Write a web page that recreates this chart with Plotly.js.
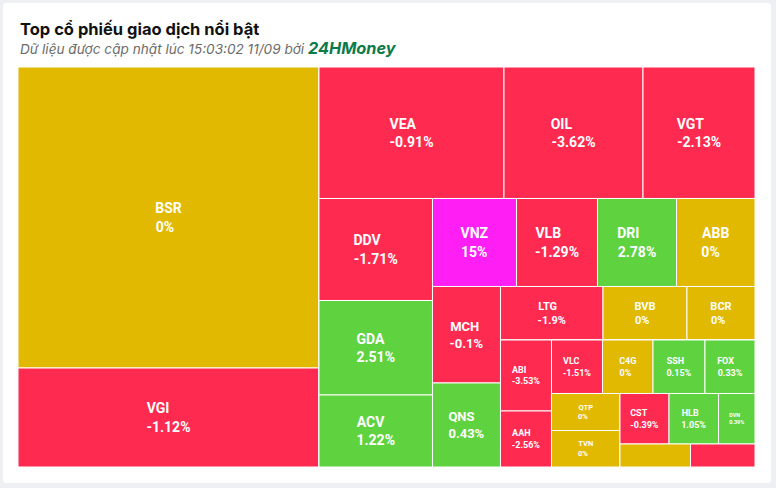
<!DOCTYPE html>
<html>
<head>
<meta charset="utf-8">
<script src="https://cdn.plot.ly/plotly-3.0.1.min.js"></script>
<style>
  html, body { margin: 0; padding: 0; background: #eef0f3; width: 776px; height: 488px; overflow: hidden; }
  #card { position: absolute; left: 3px; top: 3px; width: 768px; height: 480px; background: #ffffff; border-radius: 4px; overflow: hidden; }
  #chart { width: 768px; height: 480px; }
</style>
</head>
<body>
<div id="card"><div id="chart"></div></div>
<script>
// ---------------- DATA ----------------
// Layout groups (rows / columns of the treemap, nested)
const groupIds     = ['ALL', 'A', 'R1', 'B', 'R2', 'C', 'R3', 'D', 'R4', 'E', 'R5', 'F', 'R6', 'G', 'R7', 'H', 'R8', 'I', 'R9', 'J', 'K'];
const groupParents = ['',    'ALL','ALL','R1','R1','R2','R2','R3','R3','R4','R4','R5','R5','R6','R6','R7','R7','R8','R8','R9','R9'];

// Stocks (leaves)
const tickers = ['BSR','VGI','VEA','OIL','VGT','DDV','GDA','ACV','VNZ','VLB','DRI','ABB','MCH','QNS','LTG','BVB','BCR','ABI','AAH','VLC','C4G','SSH','FOX','QTP','TVN','CST','HLB','DVN','',''];
const tickerGroup = ['A','A','B','B','B','C','C','C','D','D','D','D','E','E','F','F','F','G','G','H','H','H','H','I','I','J','J','J','K','K'];
// trading size (relative)
const tradeValue = [90601,29799,24328,18279,14728,11577,10726,8172,7392,7128,6952,6908,6562,5712,5484,4494,3638,3621,2856,2729,2702,2782,2675,2535,2500,2475,2500,1843,1622,1484];
// price change, %
const changePct = [0,-1.12,-0.91,-3.62,-2.13,-1.71,2.51,1.22,15,-1.29,2.78,0,-0.1,0.43,-1.9,0,0,-3.53,-2.56,-1.51,0,0.15,0.33,0,0,-0.39,1.05,0.39,0,-0.5];

// ---------------- STYLE ----------------
const COLORS = { up: '#5fd23f', down: '#ff2a50', flat: '#e0b900', ceil: '#ff1ff5' };
const labelFontSize = { MCH: 13, QNS: 13, LTG: 11, BVB: 11, BCR: 11, ABI: 9, AAH: 9, VLC: 9, C4G: 9, SSH: 9, FOX: 9, CST: 9, HLB: 9, QTP: 7.5, TVN: 7.5, DVN: 5.5 };
const LABEL_FONT = 'Roboto';
function colorFor(c) {
  if (c >= 14) return COLORS.ceil;
  if (c > 0) return COLORS.up;
  if (c < 0) return COLORS.down;
  return COLORS.flat;
}

// left-align the two label lines inside a centred block by padding the shorter one
const ctx = document.createElement('canvas').getContext('2d');
function textW(s, size) { ctx.font = 'bold ' + size + 'px ' + LABEL_FONT; return ctx.measureText(s).width; }
const NB = '\u00a0';
function padPair(a, b, size) {
  const wa = textW(a, size), wb = textW(b, size), wn = textW(NB, size) || size * 0.25;
  const n = Math.max(0, Math.round(Math.abs(wa - wb) / wn));
  const pad = NB.repeat(n);
  return wa < wb ? [a + pad, b] : [a, b + pad];
}

// ---------------- BUILD ----------------
const leafIds = tickers.map((t, i) => t || ('X' + i));
const ids = groupIds.concat(leafIds);
const labels = groupIds.map(() => ' ').concat(tickers.map(t => t || ' '));
const parents = groupParents.concat(tickerGroup);
const values = groupIds.map(() => 0).concat(tradeValue);
const colors = groupIds.map(() => '#ffffff').concat(changePct.map(colorFor));
const sizes = groupIds.map(() => 10).concat(tickers.map(t => labelFontSize[t] || 14));
const texts = groupIds.map(() => ' ').concat(tickers.map((t, i) => {
  if (!t) return ' ';
  const size = labelFontSize[t] || 14;
  const p = padPair(t, changePct[i] + '%', size);
  return '<b>' + p[0] + '</b><br><b>' + p[1] + '</b>';
}));

const trace = {
  type: 'treemap',
  ids: ids,
  labels: labels,
  parents: parents,
  values: values,
  text: texts,
  branchvalues: 'remainder',
  sort: false,
  texttemplate: '%{text}',
  textposition: 'middle center',
  textfont: { family: LABEL_FONT + ', Arial, sans-serif', color: '#ffffff', size: sizes },
  insidetextfont: { family: LABEL_FONT + ', Arial, sans-serif', color: '#ffffff', size: sizes },
  marker: { colors: colors, line: { color: '#ffffff', width: 1 }, pad: { t: 0, l: 0, r: 0, b: 0 }, depthfade: false },
  leaf: { opacity: 1 },
  tiling: { packing: 'slice-dice', pad: 0 },
  pathbar: { visible: false },
  hoverinfo: 'skip',
  domain: { x: [0, 1], y: [0, 1] }
};

const layout = {
  width: 768,
  height: 480,
  margin: { l: 15, r: 16, t: 64, b: 16, pad: 0 },
  paper_bgcolor: '#ffffff',
  font: { family: 'Inter, Roboto, sans-serif' },
  showlegend: false,
  annotations: [
    {
      text: '<b>Top cổ phiếu giao dịch nổi bật</b>',
      xref: 'paper', yref: 'paper', x: 0, y: 1, xanchor: 'left', yanchor: 'middle',
      xshift: 0, yshift: 38, showarrow: false,
      font: { size: 16.5, color: '#111111', family: 'Inter, sans-serif' }
    },
    {
      text: '<i>Dữ liệu được cập nhật lúc 15:03:02 11/09 bởi </i><b><i><span style="color:#0d7a4a;font-size:16.3px">24HMoney</span></i></b>',
      xref: 'paper', yref: 'paper', x: 0, y: 1, xanchor: 'left', yanchor: 'middle',
      xshift: 0, yshift: 19, showarrow: false,
      font: { size: 13.6, color: '#6b6b6b', family: 'Inter, sans-serif' }
    }
  ]
};

Plotly.newPlot('chart', [trace], layout, { displayModeBar: false, staticPlot: true });
</script>
</body>
</html>
